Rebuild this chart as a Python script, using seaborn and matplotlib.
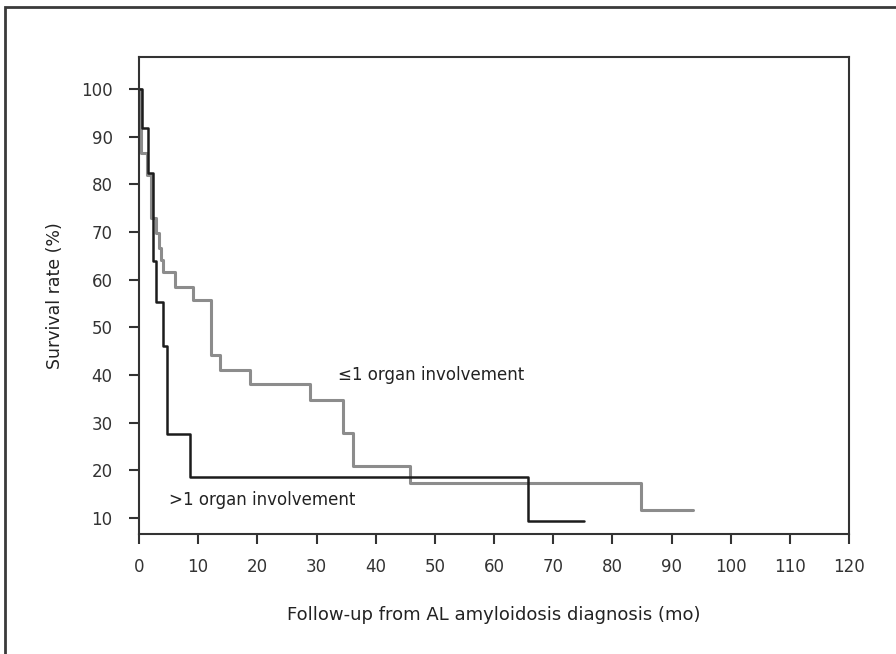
import numpy as np
import pandas as pd
import seaborn as sns
import matplotlib
matplotlib.use("Agg")
import matplotlib.pyplot as plt
from matplotlib.patches import Rectangle

# survival steps (months, %)
multi_t = [0, 0.5, 1.6, 2.4, 2.8, 4.0, 4.7, 8.7, 65.7, 75.2]
multi_s = [100, 91.8, 82.3, 64.0, 55.3, 46.1, 27.6, 18.7, 9.4, 9.4]

single_t = [0, 0.3, 1.4, 2.1, 2.8, 3.3, 3.7, 4.1, 6.1, 9.2, 12.1, 13.7,
            18.8, 28.9, 34.5, 36.2, 45.8, 84.8, 93.6]
single_s = [100, 86.5, 82.0, 72.9, 69.7, 66.6, 64.1, 61.7, 58.5, 55.8, 44.1,
            41.1, 38.1, 34.7, 27.8, 20.9, 17.4, 11.7, 11.7]

x_ticks = list(range(0, 121, 10))
y_ticks = list(range(10, 101, 10))

df = pd.concat([
    pd.DataFrame({"t": single_t, "s": single_s, "group": "single"}),
    pd.DataFrame({"t": multi_t, "s": multi_s, "group": "multi"}),
])

sns.set_style("ticks")
plt.rcParams["font.family"] = ["DejaVu Sans"]

fig = plt.figure(figsize=(8.96, 6.54), dpi=100)
ax = fig.add_axes([139 / 896, 1 - 534 / 654, 710 / 896, 477 / 654])

sns.lineplot(data=df, x="t", y="s", hue="group", ax=ax, estimator=None,
             drawstyle="steps-post", legend=False,
             palette={"single": "#8c8c8c", "multi": "#1c1c1c"})
for line, lw in zip(ax.lines, [2.2, 1.8]):
    line.set_linewidth(lw)

ax.set_xlim(0, 120)
ax.set_ylim(6.65, 106.7)
ax.set_xticks(x_ticks)
ax.set_yticks(y_ticks)
ax.tick_params(direction="out", length=7, width=1.5, colors="#333333",
               labelsize=12)
ax.tick_params(axis="x", pad=10)
ax.tick_params(axis="y", pad=12)
for sp in ax.spines.values():
    sp.set_visible(True)
    sp.set_linewidth(1.5)
    sp.set_color("#333333")

ax.set_xlabel("Follow-up from AL amyloidosis diagnosis (mo)", fontsize=13,
              color="#222222", labelpad=22)
ax.set_ylabel("Survival rate (%)", fontsize=12.5, color="#222222", labelpad=12)

ax.text(33.6, 40.0, "\u22641 organ involvement", fontsize=12, va="center",
        color="#222222")
ax.text(5.0, 13.8, ">1 organ involvement", fontsize=12, va="center",
        color="#222222")

# outer frame, cut off at right and bottom like the source image
fig.patches.append(Rectangle((5 / 896, -0.1), 2.0, 1.1 - 7 / 654,
                             transform=fig.transFigure, fill=False,
                             edgecolor="#3a3a3a", linewidth=2))

fig.savefig("out.png", dpi=100, facecolor="white")
